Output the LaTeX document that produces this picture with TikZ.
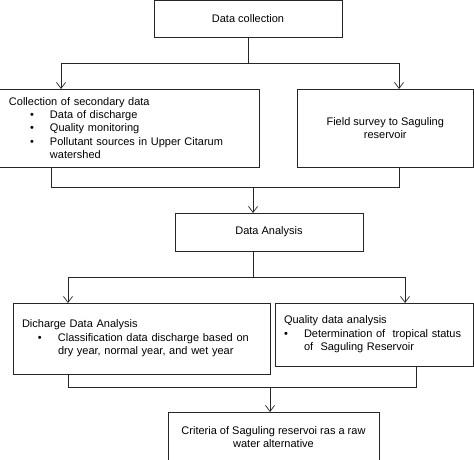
\documentclass[tikz,border=0pt]{standalone}
\usepackage{fontspec}
\setmainfont{Liberation Sans}
\usetikzlibrary{arrows.meta}

\tikzset{
  box/.style={draw=black!85, line width=0.7pt, inner ysep=0pt, font=\fontsize{11}{13.4}\selectfont},
  link/.style={draw=black!85, line width=0.7pt},
  arr/.style={link, -{Straight Barb[length=6pt,width=9pt]}}
}
\newcommand{\bul}[2]{\hspace*{#1}\makebox[#2][l]{\textbullet}}

\begin{document}
\begin{tikzpicture}[x=1pt,y=-1pt]
\useasboundingbox (0,0) rectangle (474,460);
\fill[white] (0,0) rectangle (474,460);
\clip (0,0) rectangle (474,460);
% boxes
\node[box, minimum width=188, minimum height=37, align=center] (dc) at (248,18.5) {Data collection};
\node[box, minimum width=261, minimum height=78, inner xsep=11, text width=239, align=left] (sec) at (128.5,128)
  {Collection of secondary data\\
   \bul{21pt}{20pt}Data of discharge\\
   \bul{21pt}{20pt}Quality monitoring\\
   \bul{21pt}{20pt}Pollutant sources in Upper Citarum\\
   \hspace*{41pt}watershed};
\node[box, minimum width=176.5, minimum height=78, align=center] (field) at (385.25,128)
  {Field survey to Saguling\\reservoir};
\node[box, minimum width=188, minimum height=38, align=center] (da) at (269,232) {Data Analysis};
\node[box, minimum width=257, minimum height=71, inner xsep=9, text width=239, align=left] (dis) at (141.5,338.5)
  {Dicharge Data Analysis\\
   \bul{16pt}{20pt}Classification data discharge based on\\
   \hspace*{36pt}dry year, normal year, and wet year};
\node[box, minimum width=198.5, minimum height=63, inner xsep=9, text width=180.5, align=left] (qual) at (374.25,334.5)
  {Quality data analysis\\
   \bul{0pt}{20pt}Determination of\ \ tropical status\\
   \hspace*{20pt}of\ \ Saguling Reservoir};
\node[box, minimum width=211, minimum height=50, align=center] (crit) at (273.5,437)
  {Criteria of Saguling reservoi ras a raw\\water alternative};
% connection points
\coordinate (sec in) at (61,89);
\coordinate (field in) at (399,89);
\coordinate (sec out) at (51,167);
\coordinate (field out) at (399,167);
\coordinate (da in) at (253,213);
\coordinate (da out) at (253,251);
\coordinate (dis in) at (68,303);
\coordinate (qual in) at (405,303);
\coordinate (dis out) at (68,374);
\coordinate (qual out) at (416,366);
\coordinate (crit in) at (270,412);
% connectors
\draw[link] (dc.south) -- ++(0,26) coordinate (j1);
\draw[arr] (j1) -| (sec in);
\draw[arr] (j1) -| (field in);
\draw[link] (sec out) -- ++(0,20) coordinate (j2) -| (field out);
\draw[arr] (j2 -| da in) -- (da in);
\draw[link] (da out) -- ++(0,26) coordinate (j3);
\draw[arr] (j3) -| (dis in);
\draw[arr] (j3) -| (qual in);
\draw[link] (dis out) -- ++(0,13) coordinate (j4) -| (qual out);
\draw[arr] (j4 -| crit in) -- (crit in);
\end{tikzpicture}
\end{document}
